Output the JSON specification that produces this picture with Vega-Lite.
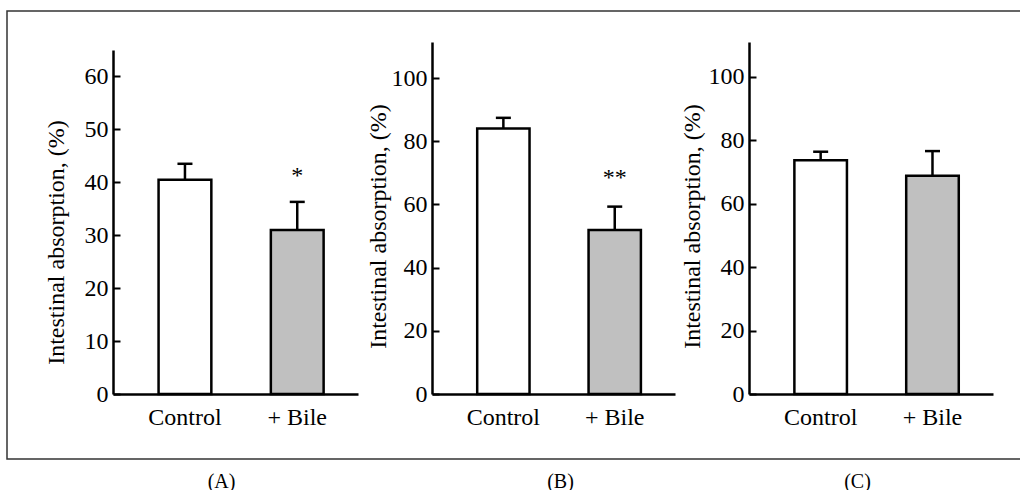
{
  "$schema": "https://vega.github.io/schema/vega-lite/v6.json",
  "width": 1015,
  "height": 448,
  "autosize": {"type": "none"},
  "padding": {"left": 7, "top": 11, "right": 0, "bottom": 31},
  "background": "white",
  "config": {
    "font": "Liberation Serif",
    "view": {"stroke": "#333333", "strokeWidth": 1.5},
    "axis": {
      "domainColor": "black", "domainWidth": 2.5, "grid": false,
      "labelColor": "black", "labelFont": "Liberation Serif", "labelFontSize": 24,
      "titleColor": "black", "titleFont": "Liberation Serif", "titleFontSize": 24, "titleFontWeight": "normal",
      "tickColor": "black"
    },
    "axisY": {"tickSize": -7, "tickWidth": 2, "labelPadding": 12},
    "axisX": {"ticks": false, "labelPadding": 11, "labelAngle": 0, "titleFontSize": 20, "titlePadding": 42}
  },
  "datasets": {
    "absorption": [
      {"panel": "A", "group": "Control", "mean": 40.5, "upper": 43.5, "sig": ""},
      {"panel": "A", "group": "+ Bile", "mean": 31.0, "upper": 36.3, "sig": "*"},
      {"panel": "B", "group": "Control", "mean": 84.0, "upper": 87.4, "sig": ""},
      {"panel": "B", "group": "+ Bile", "mean": 51.9, "upper": 59.3, "sig": "**"},
      {"panel": "C", "group": "Control", "mean": 73.7, "upper": 76.4, "sig": ""},
      {"panel": "C", "group": "+ Bile", "mean": 68.8, "upper": 76.6, "sig": ""}
    ]
  },
  "data": {"name": "absorption"},
  "resolve": {"scale": {"x": "independent", "y": "independent"}, "axis": {"x": "independent", "y": "independent"}},
  "layer": [
    {
      "transform": [{"filter": "datum.panel === 'A'"}],
      "encoding": {
        "x": {"field": "group", "type": "nominal", "sort": ["Control", "+ Bile"],
              "scale": {"domain": ["Control", "+ Bile"], "range": [106, 351], "paddingInner": 0.53, "paddingOuter": 0.356, "align": 0.57},
              "axis": {"orient": "bottom", "offset": -65, "title": "(A)", "titleX": 214}}
      },
      "layer": [
        {
          "mark": {"type": "bar", "stroke": "black", "strokeWidth": 2.5},
          "encoding": {
            "y": {"field": "mean", "type": "quantitative", "title": "Intestinal absorption, (%)",
                  "scale": {"domain": [0, 65], "range": [383, 39], "nice": false},
                  "axis": {"orient": "left", "offset": -106, "values": [0, 10, 20, 30, 40, 50, 60], "titlePadding": 16, "titleY": 231}},
            "fill": {"field": "group", "type": "nominal", "scale": {"domain": ["Control", "+ Bile"], "range": ["#ffffff", "#c0c0c0"]}, "legend": null}
          }
        },
        {
          "mark": {"type": "rule", "strokeWidth": 2.5, "color": "black"},
          "encoding": {
            "y": {"field": "mean", "type": "quantitative", "title": "Intestinal absorption, (%)"},
            "y2": {"field": "upper"}
          }
        },
        {
          "mark": {"type": "tick", "thickness": 2.5, "size": 15, "color": "black", "opacity": 1},
          "encoding": {"y": {"field": "upper", "type": "quantitative", "title": "Intestinal absorption, (%)"}}
        },
        {
          "mark": {"type": "text", "fontSize": 24, "font": "Liberation Serif", "baseline": "middle", "dy": -26, "color": "black"},
          "encoding": {
            "y": {"field": "upper", "type": "quantitative", "title": "Intestinal absorption, (%)"},
            "text": {"field": "sig"}
          }
        }
      ]
    },
    {
      "transform": [{"filter": "datum.panel === 'B'"}],
      "encoding": {
        "x": {"field": "group", "type": "nominal", "sort": ["Control", "+ Bile"],
              "scale": {"domain": ["Control", "+ Bile"], "range": [425, 668], "paddingInner": 0.53, "paddingOuter": 0.356, "align": 0.57},
              "axis": {"orient": "bottom", "offset": -65, "title": "(B)", "titleX": 553}}
      },
      "layer": [
        {
          "mark": {"type": "bar", "stroke": "black", "strokeWidth": 2.5},
          "encoding": {
            "y": {"field": "mean", "type": "quantitative", "title": "Intestinal absorption, (%)",
                  "scale": {"domain": [0, 111.4], "range": [383, 31], "nice": false},
                  "axis": {"orient": "left", "offset": -425, "values": [0, 20, 40, 60, 80, 100], "titlePadding": 1, "titleY": 215}},
            "fill": {"field": "group", "type": "nominal", "scale": {"domain": ["Control", "+ Bile"], "range": ["#ffffff", "#c0c0c0"]}, "legend": null}
          }
        },
        {
          "mark": {"type": "rule", "strokeWidth": 2.5, "color": "black"},
          "encoding": {
            "y": {"field": "mean", "type": "quantitative", "title": "Intestinal absorption, (%)"},
            "y2": {"field": "upper"}
          }
        },
        {
          "mark": {"type": "tick", "thickness": 2.5, "size": 15, "color": "black", "opacity": 1},
          "encoding": {"y": {"field": "upper", "type": "quantitative", "title": "Intestinal absorption, (%)"}}
        },
        {
          "mark": {"type": "text", "fontSize": 24, "font": "Liberation Serif", "baseline": "middle", "dy": -29, "color": "black"},
          "encoding": {
            "y": {"field": "upper", "type": "quantitative", "title": "Intestinal absorption, (%)"},
            "text": {"field": "sig"}
          }
        }
      ]
    },
    {
      "transform": [{"filter": "datum.panel === 'C'"}],
      "encoding": {
        "x": {"field": "group", "type": "nominal", "sort": ["Control", "+ Bile"],
              "scale": {"domain": ["Control", "+ Bile"], "range": [742, 986], "paddingInner": 0.53, "paddingOuter": 0.356, "align": 0.57},
              "axis": {"orient": "bottom", "offset": -65, "title": "(C)", "titleX": 850}}
      },
      "layer": [
        {
          "mark": {"type": "bar", "stroke": "black", "strokeWidth": 2.5},
          "encoding": {
            "y": {"field": "mean", "type": "quantitative", "title": "Intestinal absorption, (%)",
                  "scale": {"domain": [0, 111], "range": [383, 31], "nice": false},
                  "axis": {"orient": "left", "offset": -742, "values": [0, 20, 40, 60, 80, 100], "titlePadding": 4, "titleY": 215}},
            "fill": {"field": "group", "type": "nominal", "scale": {"domain": ["Control", "+ Bile"], "range": ["#ffffff", "#c0c0c0"]}, "legend": null}
          }
        },
        {
          "mark": {"type": "rule", "strokeWidth": 2.5, "color": "black"},
          "encoding": {
            "y": {"field": "mean", "type": "quantitative", "title": "Intestinal absorption, (%)"},
            "y2": {"field": "upper"}
          }
        },
        {
          "mark": {"type": "tick", "thickness": 2.5, "size": 15, "color": "black", "opacity": 1},
          "encoding": {"y": {"field": "upper", "type": "quantitative", "title": "Intestinal absorption, (%)"}}
        }
      ]
    }
  ]
}
